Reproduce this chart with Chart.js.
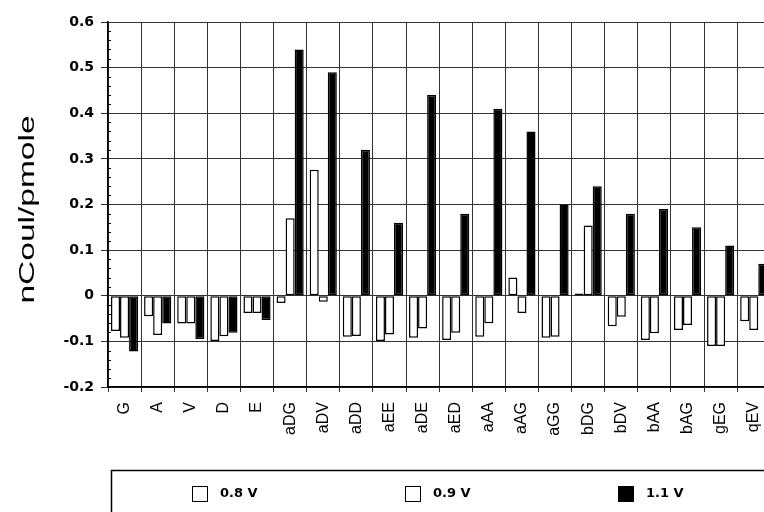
<!DOCTYPE html>
<html>
<head>
<meta charset="utf-8">
<script src="https://cdn.jsdelivr.net/npm/chart.js@4"></script>
<style>
  html, body { margin: 0; padding: 0; background: #fff; overflow: hidden; }
  #wrap { width: 783px; height: 512px; }
</style>
</head>
<body>
<div id="wrap"><canvas id="c" width="783" height="512"></canvas></div>
<script>
// Peptide categories along the x axis
const categories = ['G', 'A', 'V', 'D', 'E', 'aDG', 'aDV', 'aDD', 'aEE', 'aDE',
  'aED', 'aAA', 'aAG', 'aGG', 'bDG', 'bDV', 'bAA', 'bAG', 'gEG', 'qEV'];

// Charge per amount (nCoul/pmole) at each applied potential
const v08 = [-0.077, -0.045, -0.061, -0.099, -0.038, -0.016, 0.276, -0.090, -0.099, -0.092,
  -0.097, -0.090, 0.040, -0.092, 0.005, -0.067, -0.097, -0.075, -0.110, -0.056];
const v09 = [-0.092, -0.086, -0.061, -0.089, -0.038, 0.170, -0.013, -0.088, -0.085, -0.072,
  -0.081, -0.060, -0.038, -0.090, 0.154, -0.046, -0.082, -0.064, -0.110, -0.075];
const v11 = [-0.122, -0.061, -0.095, -0.081, -0.053, 0.540, 0.490, 0.320, 0.160, 0.440,
  0.180, 0.410, 0.360, 0.200, 0.240, 0.180, 0.190, 0.150, 0.110, 0.070];

const seriesLabels = ['0.8 V', '0.9 V', '1.1 V'];
const yTicks = [0.6, 0.5, 0.4, 0.3, 0.2, 0.1, 0, -0.1, -0.2];
const yTitle = 'nCoul/pmole';

// Wide, rotated axis title
const axisTitle = {
  id: 'axisTitle',
  afterDraw(chart) {
    const ctx = chart.ctx;
    const y = chart.scales.y;
    ctx.save();
    ctx.font = '22px Arial, "Liberation Sans"';
    const w = ctx.measureText(yTitle).width;
    ctx.translate(28, (y.top + y.bottom) / 2 + 5);
    ctx.rotate(-Math.PI / 2);
    ctx.scale(188 / w, 1);
    ctx.fillStyle = '#000';
    ctx.textAlign = 'center';
    ctx.textBaseline = 'middle';
    ctx.fillText(yTitle, 0, 0);
    ctx.restore();
  }
};

// Short minor tick marks along the inside of the value axis
const minorTicks = {
  id: 'minorTicks',
  afterDatasetsDraw(chart) {
    const ctx = chart.ctx;
    const y = chart.scales.y;
    ctx.save();
    ctx.strokeStyle = '#000';
    ctx.lineWidth = 1;
    for (let i = -10; i <= 30; i++) {
      if (i % 5 === 0) continue;
      const py = Math.round(y.getPixelForValue(i * 0.02)) + 0.5;
      ctx.beginPath();
      ctx.moveTo(y.right, py);
      ctx.lineTo(y.right + 3, py);
      ctx.stroke();
    }
    ctx.restore();
  }
};

// Boxed legend strip below the axis labels
const boxedLegend = {
  id: 'boxedLegend',
  afterDraw(chart) {
    const ctx = chart.ctx;
    ctx.save();
    ctx.strokeStyle = '#000';
    ctx.lineWidth = 1.5;
    ctx.strokeRect(111.5, 470.5, 700, 80);
    const xs = [192, 405, 618];
    ctx.font = 'bold 13px "DejaVu Sans"';
    ctx.textBaseline = 'middle';
    ctx.textAlign = 'left';
    chart.data.datasets.forEach((ds, i) => {
      const x = xs[i], y = 486;
      ctx.fillStyle = ds.backgroundColor;
      ctx.fillRect(x, y, 16, 16);
      ctx.strokeStyle = '#000';
      ctx.lineWidth = 1;
      ctx.strokeRect(x + 0.5, y + 0.5, 15, 15);
      ctx.fillStyle = '#000';
      ctx.fillText(ds.label, x + 28, y + 8);
    });
    ctx.restore();
  }
};

const barStyle = (fill) => ({
  backgroundColor: fill,
  borderColor: '#000',
  borderWidth: 1.5,
  borderSkipped: false,
  categoryPercentage: 0.82,
  barPercentage: 1.0
});

new Chart(document.getElementById('c'), {
  type: 'bar',
  data: {
    labels: categories,
    datasets: [
      Object.assign({ label: seriesLabels[0], data: v08 }, barStyle('#ffffff')),
      Object.assign({ label: seriesLabels[1], data: v09 }, barStyle('#ffffff')),
      Object.assign({ label: seriesLabels[2], data: v11 }, barStyle('#000000'))
    ]
  },
  options: {
    responsive: false,
    animation: false,
    devicePixelRatio: 1,
    layout: { padding: { left: 0, top: 22, right: 2, bottom: 42 } },
    plugins: {
      legend: { display: false },
      tooltip: { enabled: false }
    },
    scales: {
      x: {
        grid: { color: '#333', lineWidth: 1, offset: true, tickLength: 5 },
        border: { color: '#000', width: 1.5 },
        ticks: {
          minRotation: 90, maxRotation: 90, autoSkip: false, padding: 10,
          color: '#000', font: { family: 'Arial, "Liberation Sans"', size: 16 }
        },
        afterFit(scale) { scale.height = 83; }
      },
      y: {
        min: -0.2, max: 0.6,
        afterBuildTicks(scale) { scale.ticks = yTicks.map(v => ({ value: v })); },
        grid: { color: '#333', lineWidth: 1, tickLength: 7 },
        border: { color: '#000', width: 1.5 },
        ticks: {
          color: '#000', padding: 7,
          font: { family: '"DejaVu Sans"', size: 14, weight: 'bold' },
          callback: (v) => String(Math.round(v * 10) / 10)
        },
        afterFit(scale) { scale.width = 108; }
      }
    }
  },
  plugins: [minorTicks, axisTitle, boxedLegend]
});
</script>
</body>
</html>
